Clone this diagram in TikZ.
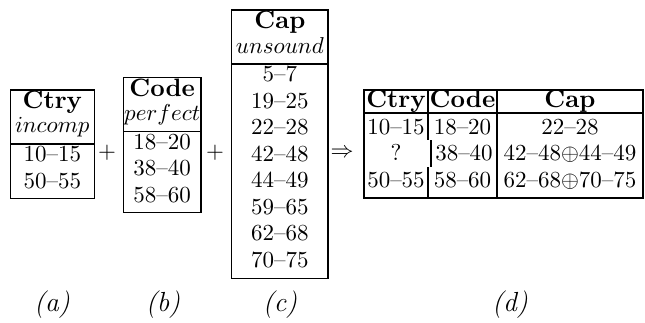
\documentclass[tikz,border=0pt]{standalone}
\begin{document}
\begin{tikzpicture}[x=0.435pt,y=-0.435pt,
  every node/.style={inner sep=0pt,outer sep=0pt},
  rule/.style={draw=black,line width=0.45pt},
  hdr/.style={anchor=base,font=\fontsize{10.95}{13}\selectfont\bfseries},
  cell/.style={anchor=base},
  op/.style={anchor=center},
  lbl/.style={anchor=base,font=\fontsize{12}{14}\selectfont\itshape}]
\useasboundingbox[fill=white] (0,0) rectangle (645,322);

% ---------- table (a)
\draw[rule] (10.3,90) rectangle (94.3,198.5);
\draw[rule] (10.3,144) -- (94.3,144);
\node[hdr]  (a1) at (52.3,108.5) {Ctry};
\node[cell] (a2) at (52.3,132.5) {$incomp$};
\node[cell] (a3) at (52.3,161.5) {10--15};
\node[cell] (a4) at (52.3,188) {50--55};

\node[op] (p1) at (107,153) {$+$};

% ---------- table (b)
\draw[rule] (123.3,77.5) rectangle (201,212.5);
\draw[rule] (123.3,131.5) -- (201,131.5);
\node[hdr]  (b1) at (162.2,96) {Code};
\node[cell] (b2) at (162.2,120.5) {$perfect$};
\node[cell] (b3) at (162.2,149) {18--20};
\node[cell] (b4) at (162.2,175.5) {38--40};
\node[cell] (b5) at (162.2,202) {58--60};

\node[op] (p2) at (215,153) {$+$};

% ---------- table (c)
\draw[rule] (231.7,10) rectangle (328,278.5);
\draw[rule] (231.7,64) -- (328,64);
\node[hdr]  (c1) at (279.9,28.5) {Cap};
\node[cell] (c2) at (279.9,53) {$unsound$};
\node[cell] (c3) at (279.9,81.5) {5--7};
\node[cell] (c4) at (279.9,108) {19--25};
\node[cell] (c5) at (279.9,134.5) {22--28};
\node[cell] (c6) at (279.9,161) {42--48};
\node[cell] (c7) at (279.9,187.5) {44--49};
\node[cell] (c8) at (279.9,214) {59--65};
\node[cell] (c9) at (279.9,240.5) {62--68};
\node[cell] (c10) at (279.9,267) {70--75};

\node[op] (imp) at (342,153) {$\Rightarrow$};

% ---------- table (d)
\draw[rule] (364,90) rectangle (643,198);
\draw[rule] (364,113) -- (643,113);
\draw[rule] (428,90) -- (428,140);
\draw[rule] (431,140) -- (431,167);
\draw[rule] (428,167) -- (428,198);
\draw[rule] (497,90) -- (497,198);
\node[hdr]  (d1) at (396,107) {Ctry};
\node[hdr]  (d2) at (462.5,107) {Code};
\node[hdr]  (d3) at (570,107) {Cap};
\node[cell] (d4) at (396,134) {10--15};
\node[cell] (d5) at (462.5,134) {18--20};
\node[cell] (d6) at (570,134) {22--28};
\node[cell] (d7) at (396,160.5) {?};
\node[cell] (d8) at (464,160.5) {38--40};
\node[cell] (d9) at (570,160.5) {42--48$\oplus$44--49};
\node[cell] (d10) at (396,187) {50--55};
\node[cell] (d11) at (462.5,187) {58--60};
\node[cell] (d12) at (570,187) {62--68$\oplus$70--75};

% ---------- labels
\node[lbl] (la) at (52,311) {(a)};
\node[lbl] (lb) at (163,311) {(b)};
\node[lbl] (lc) at (280,311) {(c)};
\node[lbl] (ld) at (510,311) {(d)};
\end{tikzpicture}
\end{document}
